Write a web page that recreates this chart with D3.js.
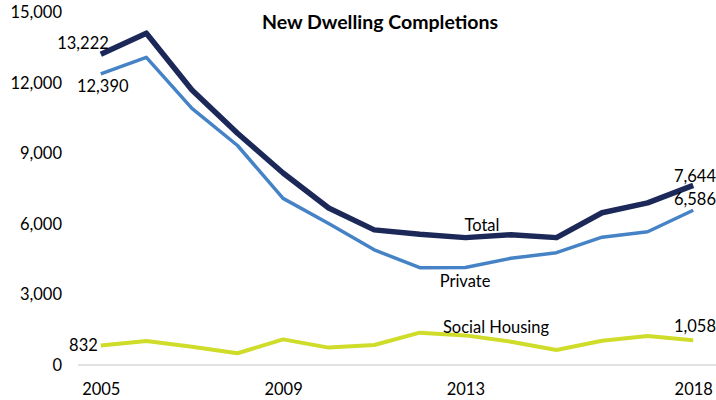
<!DOCTYPE html>
<html>
<head>
<meta charset="utf-8">
<script src="https://cdn.jsdelivr.net/npm/d3@7"></script>
<style>
  html, body { margin: 0; padding: 0; background: #fff; }
  svg { display: block; font-family: Lato, "Open Sans", sans-serif; }
</style>
</head>
<body>
<svg id="chart" width="716" height="400"></svg>
<script>
const years = [2005, 2006, 2007, 2008, 2009, 2010, 2011, 2012, 2013, 2014, 2015, 2016, 2017, 2018];
const xTickLabels = [2005, 2009, 2013, 2018];
const yTicks = [0, 3000, 6000, 9000, 12000, 15000];
const total = [13222, 14120, 11700, 9860, 8170, 6680, 5750, 5560, 5420, 5540, 5420, 6480, 6900, 7644];
const priv = [12390, 13090, 10920, 9340, 7090, 6020, 4900, 4140, 4150, 4540, 4780, 5440, 5670, 6586];
const social = [832, 1020, 780, 500, 1090, 740, 850, 1375, 1260, 990, 640, 1035, 1230, 1058];

const svg = d3.select("#chart");
const fmt = d3.format(",");
const FS = 16.5;

const x = d3.scalePoint().domain(years).range([78, 716]).padding(0.5);
const y = d3.scaleLinear().domain([0, 15000]).range([365, 12.5]);

// baseline
svg.append("line")
  .attr("x1", 78).attr("x2", 716)
  .attr("y1", y(0)).attr("y2", y(0))
  .attr("stroke", "#d9d9d9").attr("stroke-width", 1.5);

// y axis
const yAxis = d3.axisLeft(y).tickValues(yTicks).tickFormat(fmt).tickSize(0).tickPadding(0);
const gy = svg.append("g").attr("transform", "translate(62,0)").call(yAxis);
gy.select(".domain").remove();
gy.selectAll("text").attr("font-size", FS).attr("fill", "#000").attr("font-family", "Lato, sans-serif");

// x axis
const xAxis = d3.axisBottom(x).tickValues(xTickLabels).tickSize(0).tickPadding(0);
const gx = svg.append("g").attr("transform", "translate(0,383)").call(xAxis);
gx.select(".domain").remove();
gx.selectAll("text").attr("font-size", FS).attr("fill", "#000").attr("font-family", "Lato, sans-serif");

const line = d3.line().x((d, i) => x(years[i])).y(d => y(d));

const series = [
  { values: social, color: "#cfdc2a", width: 4 },
  { values: priv, color: "#4683c6", width: 3.5 },
  { values: total, color: "#1b2858", width: 5.5 }
];
series.forEach(s => {
  svg.append("path").datum(s.values)
    .attr("d", line).attr("fill", "none")
    .attr("stroke", s.color).attr("stroke-width", s.width)
    .attr("stroke-linejoin", "round");
});

// title
svg.append("text").attr("x", 380).attr("y", 29)
  .attr("text-anchor", "middle").attr("font-weight", "bold").attr("font-size", 19.5)
  .text("New Dwelling Completions");

const n = years.length - 1;
const labels = [
  { t: fmt(total[0]), x: x(years[0]) + 8, y: 49, a: "end" },
  { t: fmt(priv[0]), x: x(years[0]) + 2, y: 92, a: "middle" },
  { t: fmt(social[0]), x: x(years[0]) - 3, y: 351, a: "end" },
  { t: fmt(total[n]), x: 716, y: 182, a: "end" },
  { t: fmt(priv[n]), x: 716, y: 205, a: "end" },
  { t: fmt(social[n]), x: 716, y: 332, a: "end" },
  { t: "Total", x: 482, y: 231, a: "middle" },
  { t: "Private", x: 465, y: 287, a: "middle" },
  { t: "Social Housing", x: 496, y: 333, a: "middle" }
];
svg.selectAll("text.lbl").data(labels).enter().append("text")
  .attr("class", "lbl")
  .attr("x", d => d.x).attr("y", d => d.y)
  .attr("text-anchor", d => d.a)
  .attr("font-size", FS).attr("fill", "#000")
  .text(d => d.t);
</script>
</body>
</html>
